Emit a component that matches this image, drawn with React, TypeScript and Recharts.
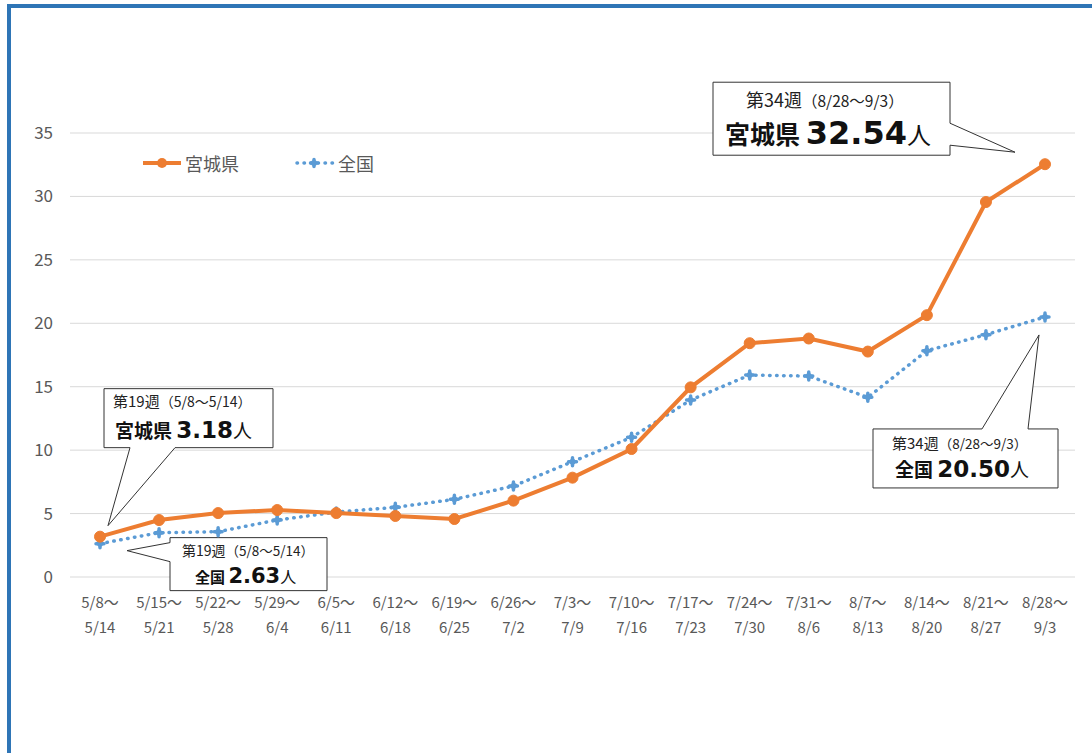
import { CartesianGrid, Legend, Line, LineChart, ReferenceDot, XAxis, YAxis } from "recharts";

const weekStarts = ["5/8", "5/15", "5/22", "5/29", "6/5", "6/12", "6/19", "6/26", "7/3", "7/10", "7/17", "7/24", "7/31", "8/7", "8/14", "8/21", "8/28"];
const weekEnds = ["5/14", "5/21", "5/28", "6/4", "6/11", "6/18", "6/25", "7/2", "7/9", "7/16", "7/23", "7/30", "8/6", "8/13", "8/20", "8/27", "9/3"];
const miyagi = [3.18, 4.49, 5.04, 5.28, 5.04, 4.81, 4.57, 6.02, 7.83, 10.09, 14.95, 18.43, 18.8, 17.77, 20.64, 29.56, 32.54];
const national = [2.63, 3.49, 3.57, 4.49, 5.12, 5.49, 6.12, 7.17, 9.09, 11.01, 13.95, 15.92, 15.84, 14.16, 17.84, 19.1, 20.5];
const yTicks = [0, 5, 10, 15, 20, 25, 30, 35];
// week numbers printed in the callouts (first and last week)
const firstWeekNo = 19;
const lastWeekNo = 34;

const ORANGE = "#ED7D31";
const BLUE = "#5B9BD5";
const FONT = '"Noto Sans CJK JP", "Noto Sans", sans-serif';
const NUM_FONT = '"DejaVu Sans", sans-serif';
const TEXT = "#595959";

const data = weekStarts.map((start, i) => ({ start, miyagi: miyagi[i], national: national[i] }));
const last = weekStarts.length - 1;

function XTick({ x, y, payload }: any) {
  const i = weekStarts.indexOf(payload.value);
  return (
    <g>
      <text x={x} y={y + 31} textAnchor="middle" fontSize={15} fill={TEXT} fontFamily={FONT}>{payload.value}〜</text>
      <text x={x} y={y + 56} textAnchor="middle" fontSize={15} fill={TEXT} fontFamily={FONT}>{weekEnds[i]}</text>
    </g>
  );
}

function BlueMarker({ cx, cy, size = 4 }: { cx: number; cy: number; size?: number }) {
  return (
    <g>
      <path d={`M${cx - size},${cy} L${cx + size},${cy} M${cx},${cy - size} L${cx},${cy + size}`} stroke={BLUE} strokeWidth={3.5} strokeLinecap="round" />
      <circle cx={cx} cy={cy} r={3} fill={BLUE} />
    </g>
  );
}

function outline(cx: number, cy: number, pts: number[][]) {
  return "M" + pts.map(([dx, dy]) => `${cx + dx},${cy + dy}`).join(" L") + " Z";
}

function weekLabel(i: number) {
  return `（${weekStarts[i]}〜${weekEnds[i]}）`;
}

function MiyagiFirst({ cx, cy }: any) {
  return (
    <g fontFamily={FONT}>
      <path d={outline(cx, cy, [[4, -148], [173, -148], [173, -89], [75, -89], [8, -11], [30, -89], [4, -89]])} fill="#fff" stroke="#333" strokeWidth={1} />
      <text x={cx + 13} y={cy - 130} fill="#222">
        <tspan fontSize={15}>第{firstWeekNo}週</tspan>
        <tspan fontSize={14}>{weekLabel(0)}</tspan>
      </text>
      <text x={cx + 15} y={cy - 99} fill="#111">
        <tspan fontSize={19} fontWeight="bold">宮城県 </tspan>
        <tspan fontSize={23} fontWeight="bold" fontFamily={NUM_FONT}>{miyagi[0].toFixed(2)}</tspan>
        <tspan fontSize={19}>人</tspan>
      </text>
    </g>
  );
}

function NationalFirst({ cx, cy }: any) {
  return (
    <g fontFamily={FONT}>
      <path d={outline(cx, cy, [[70, -6], [227, -6], [227, 47], [70, 47], [70, 18], [27, 7], [70, -1]])} fill="#fff" stroke="#333" strokeWidth={1} />
      <text x={cx + 82} y={cy + 12} fill="#222">
        <tspan fontSize={14}>第{firstWeekNo}週</tspan>
        <tspan fontSize={13.5}>{weekLabel(0)}</tspan>
      </text>
      <text x={cx + 95} y={cy + 39} fill="#111">
        <tspan fontSize={15} fontWeight="bold">全国 </tspan>
        <tspan fontSize={21} fontWeight="bold" fontFamily={NUM_FONT}>{national[0].toFixed(2)}</tspan>
        <tspan fontSize={16}>人</tspan>
      </text>
    </g>
  );
}

function MiyagiLast({ cx, cy }: any) {
  return (
    <g fontFamily={FONT}>
      <path d={outline(cx, cy, [[-332, -82], [-95, -82], [-95, -41], [-30, -12], [-95, -19], [-95, -9], [-332, -9]])} fill="#fff" stroke="#333" strokeWidth={1} />
      <text x={cx - 299} y={cy - 57} fill="#222">
        <tspan fontSize={18}>第{lastWeekNo}週</tspan>
        <tspan fontSize={15.5}>{weekLabel(last)}</tspan>
      </text>
      <text x={cx - 320} y={cy - 20} fill="#111">
        <tspan fontSize={25} fontWeight="bold">宮城県 </tspan>
        <tspan fontSize={32} fontWeight="bold" fontFamily={NUM_FONT}>{miyagi[last].toFixed(2)}</tspan>
        <tspan fontSize={24}>人</tspan>
      </text>
    </g>
  );
}

function NationalLast({ cx, cy }: any) {
  return (
    <g fontFamily={FONT}>
      <path d={outline(cx, cy, [[-172, 112], [-63, 112], [-6, 18], [-17, 112], [13, 112], [13, 171], [-172, 171]])} fill="#fff" stroke="#333" strokeWidth={1} />
      <text x={cx - 153} y={cy + 132} fill="#222">
        <tspan fontSize={15}>第{lastWeekNo}週</tspan>
        <tspan fontSize={13.5}>{weekLabel(last)}</tspan>
      </text>
      <text x={cx - 150} y={cy + 160} fill="#111">
        <tspan fontSize={19} fontWeight="bold">全国 </tspan>
        <tspan fontSize={23} fontWeight="bold" fontFamily={NUM_FONT}>{national[last].toFixed(2)}</tspan>
        <tspan fontSize={19}>人</tspan>
      </text>
    </g>
  );
}

function LegendBox() {
  return (
    <div style={{ display: "flex", alignItems: "center", fontFamily: FONT, fontSize: 18, color: TEXT, lineHeight: "26px" }}>
      <svg width={40} height={14}>
        <line x1={1} y1={7} x2={39} y2={7} stroke={ORANGE} strokeWidth={4} />
        <circle cx={20} cy={7} r={5} fill={ORANGE} />
      </svg>
      <span style={{ marginLeft: 3 }}>宮城県</span>
      <svg width={40} height={14} style={{ marginLeft: 56 }}>
        <line x1={2} y1={7} x2={38} y2={7} stroke={BLUE} strokeWidth={3.5} strokeDasharray="0.5 6.5" strokeLinecap="round" />
        <BlueMarker cx={19} cy={7} size={3.5} />
      </svg>
      <span style={{ marginLeft: 3 }}>全国</span>
    </div>
  );
}

export default function App() {
  return (
    <div style={{ position: "absolute", left: 0, top: 0, width: 1092, height: 753, background: "#fff", overflow: "hidden" }}>
      <div style={{ position: "absolute", left: 7, top: 4, width: 1100, height: 746, borderTop: "4px solid #2E75B6", borderLeft: "4px solid #2E75B6", borderBottom: "3px solid #dff3fa" }} />
      <div style={{ position: "absolute", left: 0, top: 0 }}>
        <LineChart width={1092} height={753} data={data} margin={{ top: 133, right: 17, bottom: 126, left: 0 }}>
          <CartesianGrid vertical={false} stroke="#d9d9d9" strokeWidth={1} />
          <XAxis dataKey="start" type="category" padding={{ left: 30, right: 30 }} axisLine={false} tickLine={false} tickSize={0} tickMargin={0} height={50} interval={0} tick={<XTick />} />
          <YAxis domain={[0, 35]} ticks={yTicks} width={70} axisLine={false} tickLine={false} tickSize={0} tickMargin={17} tick={{ fill: TEXT, fontSize: 17, fontFamily: FONT }} />
          <Legend layout="horizontal" align="center" verticalAlign="middle" content={<LegendBox />} wrapperStyle={{ left: 142, top: 150, width: 280, height: 26 }} />
          <Line dataKey="national" stroke={BLUE} strokeWidth={3.5} strokeDasharray="0.5 6.5" strokeLinecap="round" isAnimationActive={false}
            dot={(p: any) => <BlueMarker key={`n-${p.index}`} cx={p.cx} cy={p.cy} />} activeDot={false} />
          <Line dataKey="miyagi" stroke={ORANGE} strokeWidth={4} isAnimationActive={false}
            dot={{ r: 5.5, fill: ORANGE, stroke: ORANGE, strokeWidth: 1 }} activeDot={false} />
          <ReferenceDot x={weekStarts[0]} y={miyagi[0]} r={0} shape={<MiyagiFirst />} />
          <ReferenceDot x={weekStarts[0]} y={national[0]} r={0} shape={<NationalFirst />} />
          <ReferenceDot x={weekStarts[last]} y={miyagi[last]} r={0} shape={<MiyagiLast />} />
          <ReferenceDot x={weekStarts[last]} y={national[last]} r={0} shape={<NationalLast />} />
        </LineChart>
      </div>
    </div>
  );
}
